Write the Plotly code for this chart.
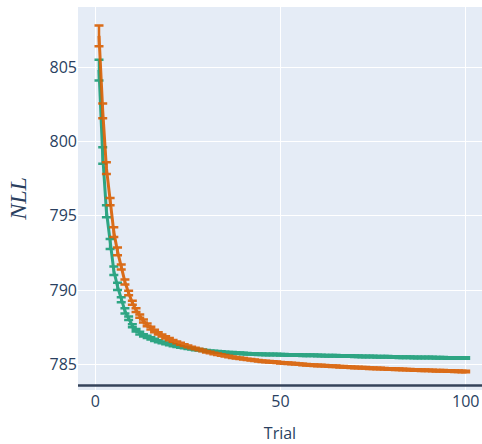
import plotly.graph_objects as go

trials = list(range(1, 101))

nll_green = [
    804.8, 799.05, 795.3, 793.1, 791.3, 790.25, 789.35, 788.6, 788.1, 787.6,
    787.3, 787.1, 786.95, 786.85, 786.75, 786.65, 786.56, 786.48, 786.41, 786.35,
    786.29, 786.23, 786.18, 786.13, 786.09, 786.05, 786.01, 785.98, 785.95, 785.92,
    785.89, 785.87, 785.85, 785.83, 785.81, 785.79, 785.78, 785.76, 785.75, 785.73,
    785.72, 785.71, 785.70, 785.69, 785.68, 785.67, 785.67, 785.66, 785.66, 785.65,
    785.65, 785.64, 785.64, 785.63, 785.63, 785.62, 785.62, 785.61, 785.61, 785.60,
    785.60, 785.59, 785.59, 785.58, 785.58, 785.57, 785.57, 785.56, 785.56, 785.55,
    785.55, 785.54, 785.54, 785.53, 785.53, 785.52, 785.52, 785.51, 785.51, 785.50,
    785.50, 785.49, 785.49, 785.48, 785.48, 785.47, 785.47, 785.47, 785.46, 785.46,
    785.46, 785.45, 785.45, 785.45, 785.44, 785.44, 785.44, 785.43, 785.43, 785.43,
]
err_green = [
    0.70, 0.55, 0.40, 0.33, 0.28, 0.25, 0.16, 0.17, 0.12, 0.10,
    0.09, 0.09, 0.08, 0.08, 0.07, 0.07, 0.07, 0.06, 0.06, 0.06,
    0.06, 0.06, 0.05, 0.05, 0.05, 0.05, 0.05, 0.05, 0.05, 0.05,
    0.05, 0.05, 0.05, 0.05, 0.05, 0.05, 0.05, 0.05, 0.05, 0.05,
    0.05, 0.05, 0.05, 0.05, 0.05, 0.05, 0.05, 0.05, 0.05, 0.05,
    0.05, 0.05, 0.05, 0.05, 0.05, 0.05, 0.05, 0.05, 0.05, 0.05,
    0.05, 0.05, 0.05, 0.05, 0.05, 0.05, 0.05, 0.05, 0.05, 0.05,
    0.05, 0.05, 0.05, 0.05, 0.05, 0.05, 0.05, 0.05, 0.05, 0.05,
    0.05, 0.05, 0.05, 0.05, 0.05, 0.05, 0.05, 0.05, 0.05, 0.05,
    0.05, 0.05, 0.05, 0.05, 0.05, 0.05, 0.05, 0.05, 0.05, 0.05,
]

nll_orange = [
    807.1, 802.05, 798.2, 795.95, 793.9, 792.6, 791.55, 790.55, 789.8, 789.15,
    788.65, 788.25, 787.92, 787.66, 787.44, 787.25, 787.09, 786.95, 786.82, 786.70,
    786.59, 786.49, 786.39, 786.30, 786.22, 786.14, 786.07, 786.00, 785.93, 785.86,
    785.80, 785.74, 785.68, 785.63, 785.58, 785.53, 785.49, 785.45, 785.41, 785.38,
    785.34, 785.31, 785.28, 785.25, 785.22, 785.20, 785.18, 785.16, 785.14, 785.12,
    785.10, 785.08, 785.06, 785.04, 785.02, 785.00, 784.98, 784.96, 784.95, 784.93,
    784.92, 784.91, 784.89, 784.88, 784.87, 784.85, 784.84, 784.83, 784.81, 784.80,
    784.79, 784.78, 784.77, 784.75, 784.74, 784.73, 784.72, 784.71, 784.70, 784.69,
    784.68, 784.67, 784.66, 784.65, 784.64, 784.63, 784.62, 784.61, 784.61, 784.60,
    784.59, 784.58, 784.57, 784.57, 784.56, 784.55, 784.54, 784.54, 784.53, 784.52,
]
err_orange = [
    0.70, 0.50, 0.40, 0.25, 0.33, 0.26, 0.17, 0.17, 0.15, 0.13,
    0.12, 0.11, 0.10, 0.09, 0.09, 0.08, 0.08, 0.07, 0.07, 0.07,
    0.06, 0.06, 0.06, 0.06, 0.06, 0.05, 0.05, 0.05, 0.05, 0.05,
    0.05, 0.05, 0.05, 0.05, 0.05, 0.05, 0.05, 0.05, 0.05, 0.05,
    0.05, 0.05, 0.05, 0.05, 0.05, 0.05, 0.05, 0.05, 0.05, 0.05,
    0.05, 0.05, 0.05, 0.05, 0.05, 0.05, 0.05, 0.05, 0.05, 0.05,
    0.05, 0.05, 0.05, 0.05, 0.05, 0.05, 0.05, 0.05, 0.05, 0.05,
    0.05, 0.05, 0.05, 0.05, 0.05, 0.05, 0.05, 0.05, 0.05, 0.05,
    0.05, 0.05, 0.05, 0.05, 0.05, 0.05, 0.05, 0.05, 0.05, 0.05,
    0.05, 0.05, 0.05, 0.05, 0.05, 0.05, 0.05, 0.05, 0.05, 0.05,
]

reference_nll = 783.59
x_range = [-4.67, 104.4]
y_range = [783.28, 809.04]

GREEN = "#1b9e77"
ORANGE = "#d95f02"

fig = go.Figure()
for yvals, errs, color in [(nll_green, err_green, GREEN), (nll_orange, err_orange, ORANGE)]:
    fig.add_trace(go.Scatter(
        x=trials, y=yvals, mode="lines",
        line=dict(color=color, width=3),
        opacity=0.9,
        error_y=dict(type="data", array=errs, visible=True, color=color,
                     thickness=2.5, width=4.5),
        showlegend=False,
    ))

fig.add_shape(type="line", xref="paper", x0=0, x1=1, yref="y",
              y0=reference_nll, y1=reference_nll,
              line=dict(color="#34435a", width=2.5))

fig.update_layout(
    width=482, height=444,
    margin=dict(l=78, r=0, t=7, b=54),
    template="plotly",
    font=dict(family="Open Sans", size=16, color="#2a3f5f"),
    showlegend=False,
)
fig.update_xaxes(range=x_range, dtick=50, tick0=0,
                 title=dict(text="Trial", font=dict(size=16), standoff=18),
                 zeroline=False, showgrid=True)
fig.update_yaxes(range=y_range, dtick=5, tick0=0,
                 title=dict(text="<i>NLL</i>",
                            font=dict(family="Liberation Serif", size=24),
                            standoff=16),
                 zeroline=False)

fig.write_html("out.html")
